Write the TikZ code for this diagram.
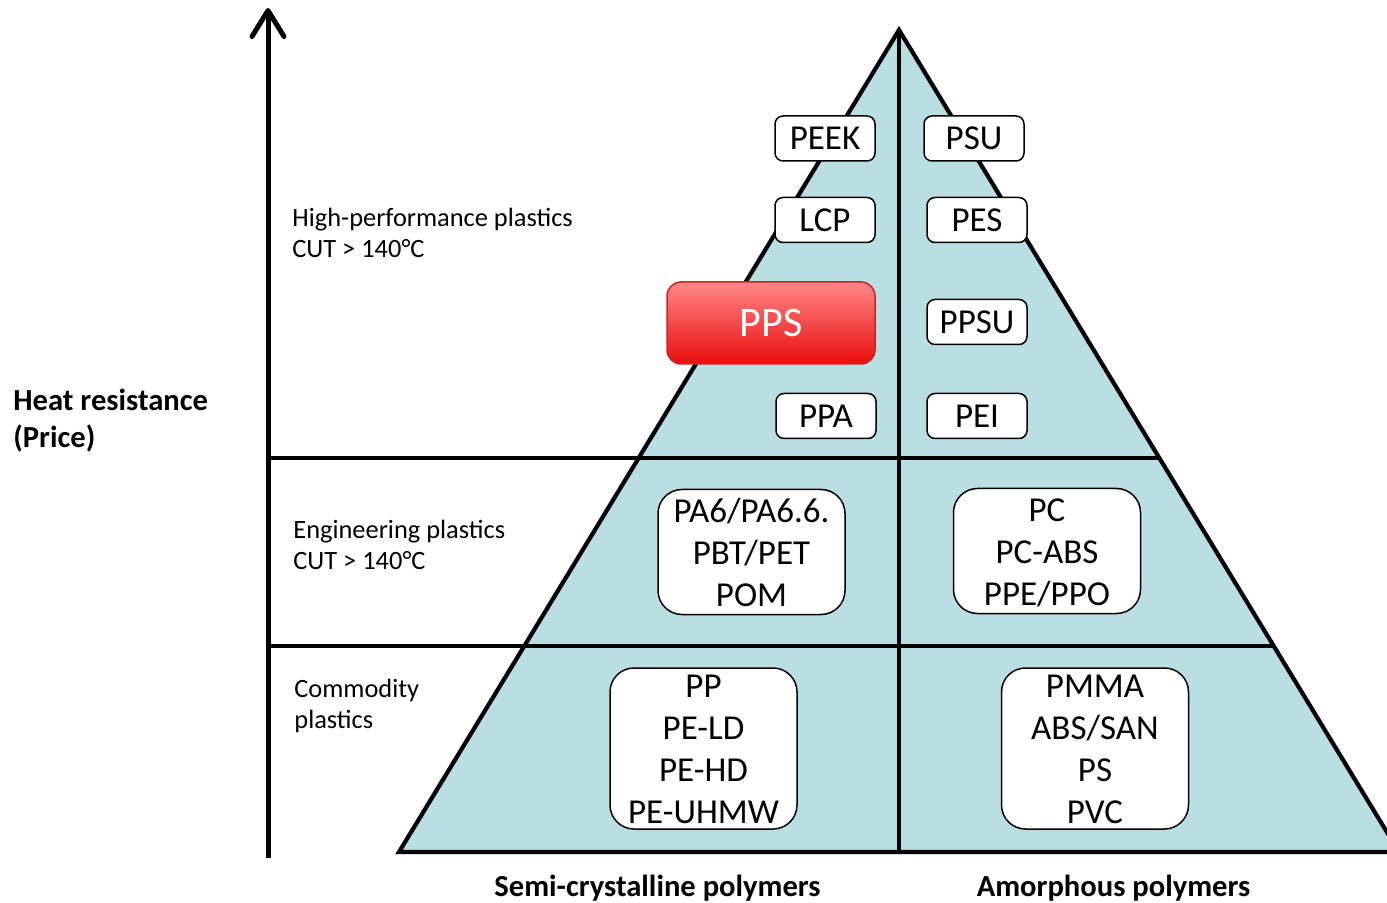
\documentclass[tikz,border=0pt]{standalone}
\usepackage{fontspec}
\setmainfont{Carlito}
\usetikzlibrary{arrows.meta}
\definecolor{tri}{RGB}{186,223,227}
\definecolor{ppstop}{RGB}{255,136,136}
\definecolor{ppsbot}{RGB}{232,12,12}
\definecolor{ppsborder}{RGB}{205,35,35}
\begin{document}
\begin{tikzpicture}[x=0.5pt,y=-0.5pt,
  thickline/.style={line width=2.1pt},
  smallbox/.style={draw=black, line width=0.75pt, fill=white, rounded corners=4pt,
    minimum width=50pt, minimum height=22.5pt, inner sep=0pt,
    font=\fontsize{17.5}{21}\selectfont},
  bigbox/.style={draw=black, line width=0.75pt, fill=white, rounded corners=12pt,
    minimum width=93.5pt, inner sep=0pt, align=center,
    font=\fontsize{17.5}{21}\selectfont},
  tiertext/.style={anchor=west, inner sep=0pt, align=left,
    font=\fontsize{13.2}{15.5}\selectfont},
  axistext/.style={inner sep=0pt, font=\bfseries\fontsize{15.3}{18.5}\selectfont}
]
\useasboundingbox (0,0) rectangle (1387,903);
\clip (0,0) rectangle (1387,903);

% triangle coordinates
\coordinate (apex) at (899,30);
\coordinate (bl) at (399,852);
\coordinate (br) at (1399,852);
\coordinate (mid) at (899,852);
\coordinate (h1l) at (268,458);
\coordinate (h1r) at (1159.3,458);
\coordinate (h2l) at (268,646);
\coordinate (h2r) at (1273.7,646);
\coordinate (arrbot) at (268,858);
\coordinate (arrtop) at (268,8);

\fill[tri] (apex) -- (bl) -- (br) -- cycle;
\draw[thickline] (h1l) -- (h1r);
\draw[thickline] (h2l) -- (h2r);
\draw[thickline] (apex) -- (mid);
\draw[thickline, line join=miter] (apex) -- (bl) -- (br) -- cycle;

\draw[line width=2.5pt, -{Straight Barb[length=13pt,width=16pt,line cap=round,line join=round]}] (arrbot) -- (arrtop);

% top tier boxes
\node[smallbox] (peek) at (825,138.5) {PEEK};
\node[smallbox] (psu) at (974,138.5) {PSU};
\node[smallbox] (lcp) at (825,220) {LCP};
\node[smallbox] (pes) at (977,220) {PES};
\node[draw=ppsborder, line width=0.75pt, top color=ppstop, bottom color=ppsbot,
  rounded corners=7pt, minimum width=104pt, minimum height=41pt, inner sep=0pt,
  text=white, font=\fontsize{21}{25}\selectfont] (pps) at (771,323) {PPS};
\node[smallbox] (ppsu) at (977,322) {PPSU};
\node[smallbox] (ppa) at (826,416) {PPA};
\node[smallbox] (pei) at (977,416) {PEI};

% middle tier
\node[bigbox, minimum height=62.5pt] (semieng) at (751.5,552) {PA6/PA6.6.\\PBT/PET\\POM};
\node[bigbox, minimum height=62.5pt] (amoreng) at (1047,551) {};
\node[inner sep=0pt, align=center, font=\fontsize{17.5}{21}\selectfont] (amorengtext) at (1047,553) {PC\\PC-ABS\\PPE/PPO};

% bottom tier
\node[bigbox, minimum height=80.5pt] (semicom) at (703.5,748.5) {};
\node[inner sep=0pt, align=center, font=\fontsize{17.5}{21}\selectfont] (semicomtext) at (703.5,749.5) {PP\\PE-LD\\PE-HD\\PE-UHMW};
\node[bigbox, minimum height=80.5pt] (amorcom) at (1095,748.5) {};
\node[inner sep=0pt, align=center, font=\fontsize{17.5}{21}\selectfont] (amorcomtext) at (1095,749.5) {PMMA\\ABS/SAN\\PS\\PVC};

% tier labels
\node[tiertext] (hp) at (292,232.5) {High-performance plastics\\CUT > 140°C};
\node[tiertext] (eng) at (293,544.5) {Engineering plastics\\CUT > 140°C};
\node[tiertext] (com) at (294,705.5) {Commodity\\plastics};

% axis labels
\node[axistext, anchor=west, align=left] (heat) at (13,420.5) {Heat resistance\\(Price)};
\node[axistext] (semi) at (657.5,888) {Semi-crystalline polymers};
\node[axistext] (amor) at (1113.5,888) {Amorphous polymers};
\end{tikzpicture}
\end{document}
